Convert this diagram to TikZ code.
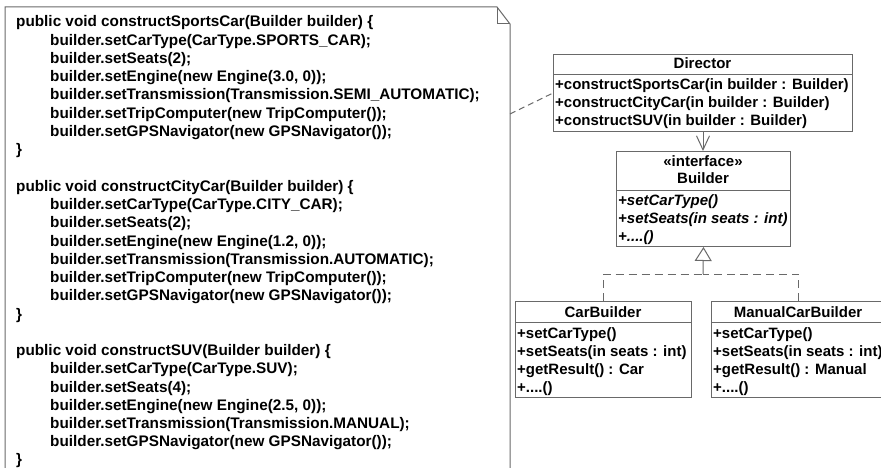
\documentclass[tikz,border=0pt]{standalone}
\usepackage{fontspec}
\setmainfont{Liberation Sans}
\usetikzlibrary{arrows.meta}
\definecolor{linec}{RGB}{105,105,105}
\begin{document}
\begin{tikzpicture}[x=1pt,y=-1pt,
  line/.style={draw=linec, line width=1pt},
  code/.style={anchor=base west, inner sep=0pt, font=\fontsize{15.3}{17}\selectfont\bfseries},
  uml/.style={anchor=base west, inner sep=0pt, font=\fontsize{15}{17}\selectfont\bfseries},
  umlit/.style={anchor=base west, inner sep=0pt, font=\fontsize{15}{17}\selectfont\bfseries\itshape},
  ttl/.style={anchor=base, inner sep=0pt, font=\fontsize{15}{17}\selectfont\bfseries},
  classbox/.style={line, rectangle, inner sep=0pt, anchor=north west},
  dsh/.style={line, dash pattern=on 8pt off 5pt},
]
\useasboundingbox (0,0) rectangle (881,468);
\fill[white] (0,0) rectangle (881,468);
\clip (0,0) rectangle (881,468);

% note
\draw[line] (5,480) -- (5,7) -- (497,7) -- (510,24) -- (510,480);
\draw[line] (497,7) -- (497,24) -- (510,24);
\coordinate (nc) at (510,114);

% code
\node[code] (c0) at (16,27) {public void constructSportsCar(Builder builder) \{};
\node[code] (c1) at (50,45.25) {builder.setCarType(CarType.SPORTS\_CAR);};
\node[code] (c2) at (50,63.5) {builder.setSeats(2);};
\node[code] (c3) at (50,81.75) {builder.setEngine(new Engine(3.0, 0));};
\node[code] (c4) at (50,100) {builder.setTransmission(Transmission.SEMI\_AUTOMATIC);};
\node[code] (c5) at (50,118.25) {builder.setTripComputer(new TripComputer());};
\node[code] (c6) at (50,136.5) {builder.setGPSNavigator(new GPSNavigator());};
\node[code] (c7) at (16,154.75) {\}};
\node[code] (c9) at (16,191.25) {public void constructCityCar(Builder builder) \{};
\node[code] (c10) at (50,209.5) {builder.setCarType(CarType.CITY\_CAR);};
\node[code] (c11) at (50,227.75) {builder.setSeats(2);};
\node[code] (c12) at (50,246) {builder.setEngine(new Engine(1.2, 0));};
\node[code] (c13) at (50,264.25) {builder.setTransmission(Transmission.AUTOMATIC);};
\node[code] (c14) at (50,282.5) {builder.setTripComputer(new TripComputer());};
\node[code] (c15) at (50,300.75) {builder.setGPSNavigator(new GPSNavigator());};
\node[code] (c16) at (16,319) {\}};
\node[code] (c18) at (16,355.5) {public void constructSUV(Builder builder) \{};
\node[code] (c19) at (50,373.75) {builder.setCarType(CarType.SUV);};
\node[code] (c20) at (50,392) {builder.setSeats(4);};
\node[code] (c21) at (50,410.25) {builder.setEngine(new Engine(2.5, 0));};
\node[code] (c22) at (50,428.5) {builder.setTransmission(Transmission.MANUAL);};
\node[code] (c23) at (50,446.75) {builder.setGPSNavigator(new GPSNavigator());};
\node[code] (c24) at (16,464.5) {\}};

% Director
\node[classbox, minimum width=299pt, minimum height=77pt] (dir) at (553,54) {};
\draw[line] (553,75) -- (852,75);
\node[ttl] (tdir) at (702.5,69) {Director};
\node[uml] (d1) at (555,90) {+constructSportsCar(in builder : Builder)};
\node[uml] (d2) at (555,108) {+constructCityCar(in builder : Builder)};
\node[uml] (d3) at (555,126) {+constructSUV(in builder : Builder)};

% Builder
\node[classbox, minimum width=174pt, minimum height=95pt] (bld) at (616,151) {};
\draw[line] (616,190) -- (790,190);
\node[ttl] (tb1) at (703,167) {«interface»};
\node[ttl] (tb2) at (703,183) {Builder};
\node[umlit] (b1) at (618,205) {+setCarType()};
\node[umlit] (b2) at (618,223) {+setSeats(in seats : int)};
\node[umlit] (b3) at (618,241) {+....()};

% CarBuilder
\node[classbox, minimum width=176pt, minimum height=96pt] (cb) at (515,301) {};
\draw[line] (515,322) -- (691,322);
\node[ttl] (tcb) at (603,317) {CarBuilder};
\node[uml] (cb1) at (517,338) {+setCarType()};
\node[uml] (cb2) at (517,356) {+setSeats(in seats : int)};
\node[uml] (cb3) at (517,374) {+getResult() : Car};
\node[uml] (cb4) at (517,392) {+....()};

% ManualCarBuilder
\node[classbox, minimum width=174pt, minimum height=96pt] (mcb) at (711,301) {};
\draw[line] (711,322) -- (885,322);
\node[ttl] (tmcb) at (798,317) {ManualCarBuilder};
\node[uml] (m1) at (713,338) {+setCarType()};
\node[uml] (m2) at (713,356) {+setSeats(in seats : int)};
\node[uml] (m3) at (713,374) {+getResult() : Manual};
\node[uml] (m4) at (713,392) {+....()};

% connectors
\draw[line, dash pattern=on 6pt off 4pt] (nc) -- (dir.west);
\draw[line, -{Straight Barb[length=14pt,width=13pt]}] (dir.south) -- (dir.south |- bld.north);
\coordinate (j) at (703,274);
\draw[dsh] (cb.north) |- (j);
\draw[dsh] (mcb.north) |- (j);
\draw[line, -{Triangle[open, length=14pt, width=17pt, fill=white]}] (j) -- (bld.south);
\end{tikzpicture}
\end{document}
